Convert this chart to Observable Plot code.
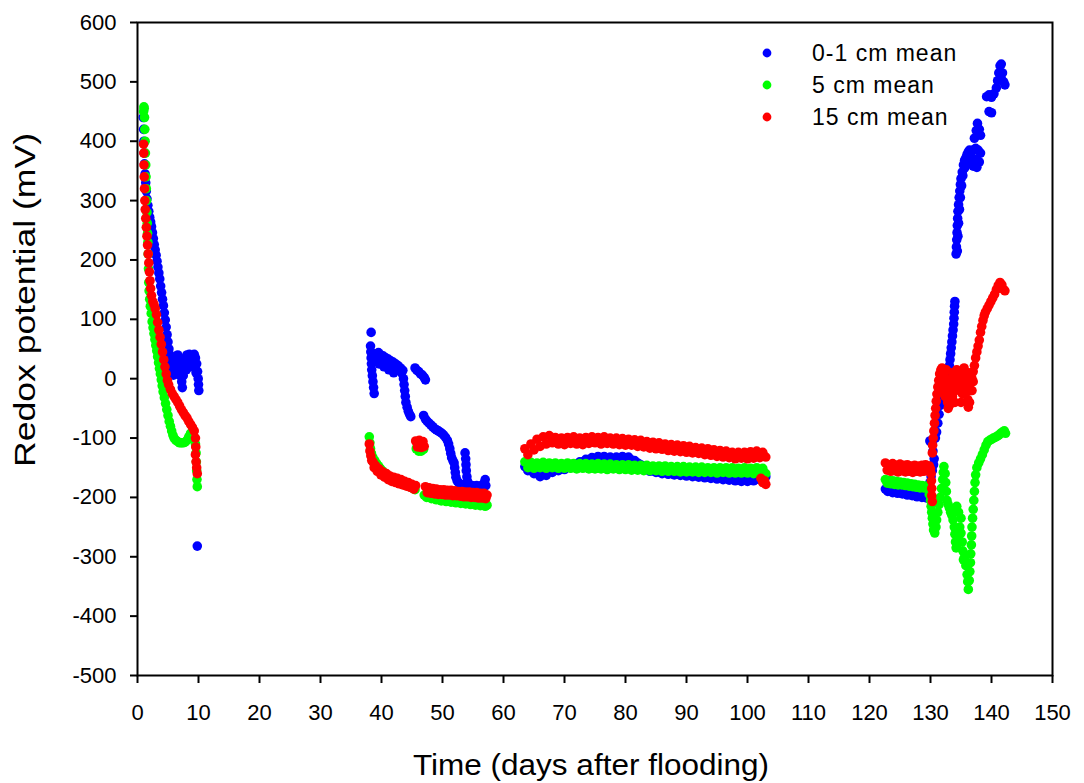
<!DOCTYPE html>
<html>
<head>
<meta charset="utf-8">
<script src="https://cdn.jsdelivr.net/npm/d3@7"></script>
<script src="https://cdn.jsdelivr.net/npm/@observablehq/plot@0.6"></script>
<style>
  body { margin: 0; background: #fff; }
  #chart svg { font-family: Arial, "Liberation Sans", Helvetica, sans-serif; }
</style>
</head>
<body>
<div id="chart"></div>
<script>
// Series labels and colours
const seriesNames = ["0-1 cm mean", "5 cm mean", "15 cm mean"];
const seriesColors = ["#0000ff", "#00ff00", "#ff0000"];

// Axis ticks and titles
const xTicks = [0, 10, 20, 30, 40, 50, 60, 70, 80, 90, 100, 110, 120, 130, 140, 150];
const yTicks = [-500, -400, -300, -200, -100, 0, 100, 200, 300, 400, 500, 600];
const xTitle = "Time (days after flooding)";
const yTitle = "Redox potential (mV)";

// Redox potential readings, [day after flooding, mV]
const blue = [
  [0.95,440],[1.0,420],[1.05,400],[1.1,380],[1.15,362],[1.25,345],[1.35,330],[1.45,316],[1.55,303],[1.7,292],
  [1.85,282],[2.0,272],[2.15,264],[2.3,256],[2.45,246],[2.6,236],[2.75,226],[2.9,217],[3.05,208],[3.2,198],
  [3.35,188],[3.5,178],[3.65,168],[3.8,156],[3.95,145],[4.1,134],[4.25,123],[4.4,111],[4.55,99],[4.7,87],
  [4.85,74],[5.0,62],[5.15,50],[5.3,40],[5.45,30],[5.6,20],[5.75,12],[5.9,6],
  [6.0,20],[6.2,32],[6.4,38],[6.6,40],[6.8,35],[7.0,25],[7.15,10],[7.25,-5],[7.35,-15],[7.5,5],
  [7.7,25],[7.9,35],[8.1,40],[8.3,36],[8.5,41],[8.7,37],[8.9,33],[9.1,38],[9.3,41],[9.5,35],
  [9.7,25],[9.85,12],[9.95,0],[10.0,-10],[10.05,-20],[6.3,15],[6.7,20],[7.0,5],[8.0,15],[8.6,20],
  [9.2,20],[9.6,10],[9.8,-282],
  [38.3,78],[38.2,55],[38.25,45],[38.3,35],[38.35,25],[38.4,15],[38.5,5],[38.6,-5],[38.7,-15],[38.8,-25],
  [38.9,30],[39.1,42],[39.3,38],[39.5,44],[39.7,36],[39.9,40],[40.1,32],[40.3,38],[40.5,30],[40.7,35],
  [40.9,28],[41.1,33],[41.3,26],[41.5,30],[41.7,22],[41.9,28],[42.1,20],[42.3,25],[42.5,17],[42.7,22],
  [42.9,14],[43.1,18],[43.3,10],[43.5,14],[39.6,25],[40.4,20],[41.2,15],[42.0,10],
  [43.6,0],[43.7,-10],[43.8,-20],[43.9,-30],[44.0,-40],[44.2,-48],[44.4,-55],[44.6,-60],[44.8,-64],
  [45.5,18],[45.8,14],[46.1,12],[46.4,8],[46.7,6],[47.0,2],[47.2,-2],
  [46.9,-62],[47.2,-68],[47.5,-72],[47.8,-75],[48.1,-78],[48.4,-81],[48.7,-84],[49.0,-86],[49.3,-88],[49.6,-90],
  [49.9,-92],[50.2,-95],[50.5,-99],[50.8,-104],[51.0,-110],[51.2,-118],[51.35,-126],[51.5,-133],[51.7,-138],[51.9,-142],
  [52.0,-150],[52.1,-158],[52.2,-166],[52.4,-172],[52.7,-176],[53.0,-178],[53.3,-180],
  [53.7,-125],[53.8,-135],[53.85,-145],[53.9,-155],[54.0,-165],[54.1,-173],[54.4,-178],[54.8,-180],[55.2,-181],[55.6,-180],
  [56.0,-182],[56.4,-180],[56.8,-176],[57.0,-170],[57.1,-180],
  [63.5,-148],[64,-155],[64.5,-152],[65,-160],[65.5,-158],[66,-165],[66.5,-160],[67,-163],[67.5,-155],[68,-158],
  [68.5,-151],[69,-155],[69.5,-150],[70,-153],[70.5,-148],[71,-150],[71.5,-144],[72,-145],[72.5,-140],[73,-140],
  [73.5,-136],[74,-137],[74.5,-133],[75,-135],[75.5,-131],[76,-134],[76.5,-131],[77,-135],[77.5,-132],[78,-136],
  [78.5,-132],[79,-135],[79.5,-131],[80,-134],[80.5,-132],[81,-137],[81.5,-138],[82,-142],[82.5,-145],[83,-150],
  [83.5,-152],[84,-156],[84.5,-155],[85,-158],[85.5,-157],[86,-160],[86.5,-158],[87,-161],[87.5,-159],[88,-162],
  [88.5,-160],[89,-163],[89.5,-161],[90,-164],[90.5,-162],[91,-165],[91.5,-163],[92,-166],[92.5,-164],[93,-167],
  [93.5,-165],[94,-168],[94.5,-166],[95,-169],[95.5,-167],[96,-170],[96.5,-168],[97,-171],[97.5,-169],[98,-172],
  [98.5,-170],[99,-173],[99.5,-171],[100,-173],[100.5,-171],[101,-172],[101.5,-169],[102,-170],[102.5,-166],[103,-165],
  [122.6,-186],[123.0,-190],[123.4,-188],[123.8,-192],[124.2,-190],[124.6,-193],[125.0,-191],[125.4,-194],[125.8,-193],[126.2,-196],
  [126.6,-195],[127.0,-197],[127.4,-196],[127.8,-199],[128.2,-197],[128.6,-200],[129.0,-199],[129.4,-201],
  [129.9,-175],[130.1,-165],[130.3,-155],[130.5,-145],[130.6,-135],[130.4,-122],
  [129.9,-105],[130.3,-110],[130.8,-100],[131.0,-90],[131.2,-75],[131.4,-60],[131.6,-45],[131.8,-33],[132.0,-22],[132.2,-12],
  [132.4,-5],[132.6,0],[132.8,5],[133.0,12],[133.1,22],[133.2,32],[133.3,42],[133.4,52],[133.5,62],[133.6,72],
  [133.7,82],[133.8,92],[133.85,102],[133.9,112],[133.95,122],[134.0,130],
  [134.2,210],[134.25,222],[134.3,234],[134.35,246],[134.4,258],[134.45,270],[134.5,282],[134.6,293],[134.7,305],[134.8,316],
  [134.9,327],[135.0,337],[135.2,348],[135.4,360],[135.6,368],[135.8,372],[136.0,378],[136.2,382],[136.4,385],
  [134.4,215],[134.5,240],[134.6,262],[134.75,285],[134.9,305],[135.1,325],[135.3,342],[135.6,355],[136.0,365],
  [136.6,380],[137.0,385],[137.4,388],[137.8,385],[138.2,380],[136.8,368],[137.2,370],[137.6,368],[138.0,365],[137.0,358],
  [137.6,356],[137.2,405],[137.5,418],[137.7,430],[138.0,420],[138.2,410],
  [139.6,450],[140.0,448],[139.2,475],[139.6,478],[140.0,474],[140.4,480],
  [140.8,490],[141.0,502],[141.2,515],[141.4,527],[141.6,530],[141.8,515],[142.0,500],[142.2,495],[141.6,505]
];

const green = [
  [1.0,450],[1.05,458],[1.1,455],[1.15,440],[1.2,420],[1.25,400],[1.3,380],[1.35,360],[1.4,340],[1.45,320],
  [1.5,300],[1.55,280],[1.6,262],[1.65,245],[1.7,230],[1.75,210],[1.8,185],[1.85,162],[1.9,148],[2.0,134],
  [2.1,122],[2.25,110],[2.4,96],[2.55,86],[2.7,76],[2.85,66],[3.0,56],[3.15,47],[3.3,37],[3.45,27],
  [3.6,17],[3.75,8],[3.9,-2],[4.05,-12],[4.2,-22],[4.4,-32],[4.6,-42],[4.8,-52],[5.0,-62],[5.2,-72],
  [5.4,-80],[5.6,-88],[5.8,-95],[6.0,-100],[6.3,-104],[6.6,-106],[6.9,-108],[7.2,-108],[7.5,-108],[7.8,-107],
  [8.1,-104],[8.4,-98],[8.7,-92],[9.0,-95],[9.3,-100],[9.5,-110],[9.6,-125],[9.65,-140],[9.7,-155],[9.75,-170],
  [9.8,-182],
  [38.0,-98],[38.1,-108],[38.2,-118],[38.35,-126],[38.6,-133],[38.9,-138],[39.2,-143],[39.5,-147],[39.8,-151],[40.1,-155],
  [40.4,-158],[40.7,-161],[41.0,-163],[41.3,-165],[41.6,-167],[41.9,-169],[42.2,-170],[42.5,-172],[42.8,-173],[43.1,-175],
  [43.4,-176],[43.7,-178],[44.0,-179],[44.3,-180],[44.6,-182],[44.9,-183],[45.2,-185],[45.5,-187],
  [45.7,-118],[46.1,-122],[46.5,-122],[46.9,-119],
  [47.0,-196],[47.4,-200],[47.8,-198],[48.2,-202],[48.6,-200],[49.0,-204],[49.4,-202],[49.8,-206],[50.2,-204],[50.6,-207],
  [51.0,-205],[51.4,-208],[51.8,-206],[52.2,-209],[52.6,-207],[53.0,-210],[53.4,-208],[53.8,-211],[54.2,-209],[54.6,-212],
  [55.0,-210],[55.4,-213],[55.8,-211],[56.2,-214],[56.6,-212],[57.0,-215],[57.3,-213],
  [63.5,-140],[64,-150],[64.5,-141],[65,-151],[65.5,-142],[66,-150],[66.5,-141],[67,-151],[67.5,-142],[68,-150],
  [68.5,-142],[69,-151],[69.5,-143],[70,-151],[70.5,-142],[71,-151],[71.5,-143],[72,-152],[72.5,-143],[73,-151],
  [73.5,-143],[74,-152],[74.5,-144],[75,-152],[75.5,-143],[76,-152],[76.5,-144],[77,-153],[77.5,-144],[78,-152],
  [78.5,-145],[79,-153],[79.5,-145],[80,-153],[80.5,-145],[81,-154],[81.5,-146],[82,-154],[82.5,-146],[83,-155],
  [83.5,-146],[84,-155],[84.5,-147],[85,-155],[85.5,-147],[86,-156],[86.5,-147],[87,-156],[87.5,-148],[88,-156],
  [88.5,-148],[89,-157],[89.5,-148],[90,-157],[90.5,-149],[91,-157],[91.5,-149],[92,-158],[92.5,-149],[93,-158],
  [93.5,-150],[94,-158],[94.5,-150],[95,-159],[95.5,-150],[96,-158],[96.5,-150],[97,-159],[97.5,-150],[98,-159],
  [98.5,-151],[99,-159],[99.5,-150],[100,-159],[100.5,-151],[101,-160],[101.5,-150],[102,-159],[102.5,-151],[103,-160],
  [122.6,-170],[122.9,-176],[123.2,-171],[123.5,-177],[123.8,-172],[124.1,-178],[124.4,-173],[124.7,-179],[125.0,-174],[125.3,-179],
  [125.6,-175],[125.9,-180],[126.2,-176],[126.5,-181],[126.8,-177],[127.1,-182],[127.4,-178],[127.7,-183],[128.0,-179],[128.3,-184],
  [128.6,-180],[128.9,-184],[129.2,-181],[129.5,-185],
  [129.8,-195],[130.0,-205],[130.1,-215],[130.2,-225],[130.3,-235],[130.4,-245],[130.5,-255],[130.7,-260],[130.9,-250],[131.0,-238],
  [131.2,-225],[131.4,-212],[131.6,-200],[131.8,-185],[132.0,-170],[132.1,-158],[132.2,-148],[132.4,-160],[132.5,-175],[132.6,-190],
  [132.7,-205],[132.9,-212],[133.1,-218],[133.3,-225],[133.5,-230],[133.7,-238],[133.9,-250],[134.0,-262],[134.1,-275],[134.2,-285],
  [134.4,-278],[134.6,-265],[134.8,-250],[135.0,-260],[135.2,-275],[135.3,-290],[135.4,-305],[135.6,-300],[135.8,-315],[136.0,-330],
  [136.1,-342],[136.2,-355],[136.35,-340],[136.45,-325],[136.55,-310],[136.6,-295],[136.7,-280],[136.75,-265],[136.8,-250],[136.9,-235],
  [137.0,-220],[137.1,-205],[137.2,-190],[137.3,-175],[137.4,-162],[137.6,-150],[137.9,-142],[138.2,-135],[138.5,-128],[138.8,-120],
  [139.1,-112],[139.4,-106],[139.7,-104],[140.0,-102],[140.3,-100],[140.6,-99],[140.9,-97],[141.2,-95],[141.5,-92],[141.8,-90],
  [142.1,-88],[142.3,-92],[134.3,-215],[134.6,-225],[135.0,-235]
];

const red = [
  [1.0,395],[1.03,380],[1.06,360],[1.1,340],[1.15,320],[1.2,300],[1.27,285],[1.35,270],[1.45,255],[1.55,240],
  [1.65,225],[1.75,210],[1.85,195],[1.95,180],[2.05,165],[2.15,152],[2.3,140],[2.5,130],[2.7,125],[2.9,118],
  [3.1,108],[3.3,95],[3.5,82],[3.7,70],[3.9,58],[4.1,45],[4.3,32],[4.5,20],[4.7,8],[4.9,-3],
  [5.1,-10],[5.4,-18],[5.7,-25],[6.0,-30],[6.3,-35],[6.6,-40],[6.9,-46],[7.2,-52],[7.5,-57],[7.8,-62],
  [8.1,-66],[8.4,-72],[8.7,-77],[9.0,-82],[9.3,-88],[9.5,-100],[9.55,-115],[9.5,-128],[9.6,-140],[9.7,-150],
  [9.8,-160],
  [38.0,-110],[38.1,-122],[38.25,-130],[38.4,-138],[38.6,-140],[38.8,-150],[39.0,-146],[39.3,-156],[39.6,-152],[39.9,-162],
  [40.2,-157],[40.5,-166],[40.8,-160],[41.1,-170],[41.4,-164],[41.7,-173],[42.0,-166],[42.3,-175],[42.6,-168],[42.9,-177],
  [43.2,-170],[43.5,-179],[43.8,-173],[44.1,-181],[44.4,-175],[44.7,-183],[45.0,-178],[45.3,-186],[45.6,-180],
  [45.6,-105],[45.9,-115],[46.2,-104],[46.5,-116],[46.8,-106],[47.0,-114],[46.0,-110],[46.6,-110],
  [47.2,-182],[47.5,-192],[47.8,-184],[48.1,-193],[48.4,-185],[48.7,-194],[49.0,-186],[49.3,-195],[49.6,-187],[49.9,-195],
  [50.2,-187],[50.5,-196],[50.8,-188],[51.1,-196],[51.4,-188],[51.7,-197],[52.0,-189],[52.3,-197],[52.6,-190],[52.9,-198],
  [53.2,-190],[53.5,-199],[53.8,-191],[54.1,-199],[54.4,-191],[54.7,-200],[55.0,-192],[55.3,-200],[55.6,-192],[55.9,-201],
  [56.2,-193],[56.5,-201],[56.8,-193],[57.1,-202],[57.3,-196],
  [63.5,-118],[64,-128],[64.5,-110],[65,-120],[65.5,-102],[66,-114],[66.5,-98],[67,-110],[67.5,-96],[68,-108],
  [68.5,-99],[69,-110],[69.5,-100],[70,-111],[70.5,-99],[71,-109],[71.5,-98],[72,-110],[72.5,-100],[73,-111],
  [73.5,-99],[74,-109],[74.5,-98],[75,-108],[75.5,-99],[76,-110],[76.5,-98],[77,-109],[77.5,-100],[78,-110],
  [78.5,-100],[79,-111],[79.5,-101],[80,-112],[80.5,-102],[81,-112],[81.5,-103],[82,-114],[82.5,-104],[83,-115],
  [83.5,-106],[84,-117],[84.5,-107],[85,-118],[85.5,-108],[86,-119],[86.5,-110],[87,-121],[87.5,-111],[88,-122],
  [88.5,-112],[89,-123],[89.5,-113],[90,-124],[90.5,-114],[91,-125],[91.5,-116],[92,-126],[92.5,-117],[93,-128],
  [93.5,-118],[94,-129],[94.5,-120],[95,-131],[95.5,-121],[96,-132],[96.5,-122],[97,-133],[97.5,-124],[98,-135],
  [98.5,-124],[99,-134],[99.5,-124],[100,-135],[100.5,-123],[101,-134],[101.5,-122],[102,-133],[102.5,-124],[103,-132],
  [102.2,-168],[102.5,-175],[102.8,-172],[103.0,-178],
  [122.6,-142],[122.9,-154],[123.2,-145],[123.5,-156],[123.8,-143],[124.1,-155],[124.4,-146],[124.7,-157],[125.0,-144],[125.3,-155],
  [125.6,-146],[125.9,-157],[126.2,-145],[126.5,-156],[126.8,-147],[127.1,-158],[127.4,-146],[127.7,-156],[128.0,-147],[128.3,-157],
  [128.6,-146],[128.9,-156],[129.2,-145],[129.5,-155],[129.8,-147],[130.0,-152],
  [130.1,-160],[130.15,-172],[130.2,-185],[130.2,-197],[130.3,-207],
  [130.3,-125],[130.35,-112],[130.45,-100],[130.55,-88],[130.65,-75],[130.75,-62],[130.85,-50],[130.95,-38],[131.05,-26],[131.2,-14],
  [131.35,-3],[131.5,8],[131.7,15],[131.9,18],[132.1,10],[132.3,0],[132.5,-12],[132.7,-25],[132.8,-40],[132.9,-50],
  [133.1,-45],[133.3,-30],[133.5,-15],[133.7,-5],[133.9,5],[134.1,12],[134.3,15],[134.5,5],[134.7,-8],[134.9,-2],
  [135.1,8],[135.3,15],[135.5,18],[135.7,10],[135.9,-5],[136.0,-20],[136.1,-35],[136.2,-48],[136.4,-40],[136.6,-20],
  [136.8,0],[137.0,12],[137.2,22],[137.4,35],[137.6,45],[137.8,55],[138.0,65],[138.2,78],[138.4,88],[138.6,98],
  [138.8,106],[139.0,112],[139.3,118],[139.6,124],[139.9,130],[140.2,136],[140.5,142],[140.8,150],[141.1,157],[141.4,162],
  [141.7,158],[142.0,150],[142.2,148],
  [131.6,-10],[132.0,-20],[132.4,-30],[133.2,-20],[133.6,-30],[134.0,-20],[134.4,-10],[134.8,-20],[135.2,-25],[135.6,-15],
  [136.4,-5],[136.8,-20],
  [132.2,5],[132.6,-5],[133.0,-10],[133.4,0],[133.8,-15],[134.2,0],[134.6,-5],[135.0,-10],[135.4,0],[135.8,0],
  [136.2,-15],[136.6,5],[133.0,-35],[134.0,-40],[135.0,-40],[133.6,10],[134.8,12],[132.6,15],[136.2,10],[137.0,-5]
];

const rows = [blue, green, red].flatMap((points, i) =>
  points.map(([day, mv]) => ({day, mv, series: seriesNames[i]}))
);

const chart = Plot.plot({
  width: 1084,
  height: 783,
  marginLeft: 137,
  marginRight: 32,
  marginTop: 22,
  marginBottom: 108,
  style: {fontFamily: "Arial, 'Liberation Sans', Helvetica, sans-serif", fontSize: "22px", color: "#000", background: "#fff", overflow: "visible"},
  x: {
    domain: [0, 150],
    ticks: xTicks,
    tickSize: 8,
    tickPadding: 21,
    label: null
  },
  y: {
    domain: [-500, 600],
    ticks: yTicks,
    tickSize: 7,
    tickPadding: 14,
    tickFormat: d => String(d),
    label: null
  },
  color: {domain: seriesNames, range: seriesColors},
  marks: [
    Plot.frame({stroke: "#000", strokeWidth: 2}),
    Plot.dot(rows, {x: "day", y: "mv", fill: "series", r: 4.8, stroke: "none"})
  ]
});

const svg = d3.select(chart);
svg.selectAll('g[aria-label="x-axis tick"], g[aria-label="y-axis tick"]').attr("stroke-width", 2);

// Axis titles
svg.append("text")
  .attr("x", 591).attr("y", 775)
  .attr("text-anchor", "middle").attr("font-size", 29).attr("fill", "#000")
  .attr("textLength", 356).attr("lengthAdjust", "spacingAndGlyphs")
  .text(xTitle);
svg.append("text")
  .attr("transform", "translate(35,300) rotate(-90)")
  .attr("text-anchor", "middle").attr("font-size", 29).attr("fill", "#000")
  .attr("textLength", 334).attr("lengthAdjust", "spacingAndGlyphs")
  .text(yTitle);

// Legend in the upper right of the plot area
const legend = svg.append("g").attr("font-size", 23).attr("letter-spacing", "1px").attr("text-anchor", "start");
seriesNames.forEach((name, i) => {
  const y = 53 + i * 32;
  legend.append("circle").attr("cx", 767).attr("cy", y).attr("r", 4.4).attr("fill", seriesColors[i]);
  legend.append("text").attr("x", 812).attr("y", y).attr("dy", "0.36em").attr("fill", "#000").text(name);
});

document.getElementById("chart").append(chart);
</script>
</body>
</html>
